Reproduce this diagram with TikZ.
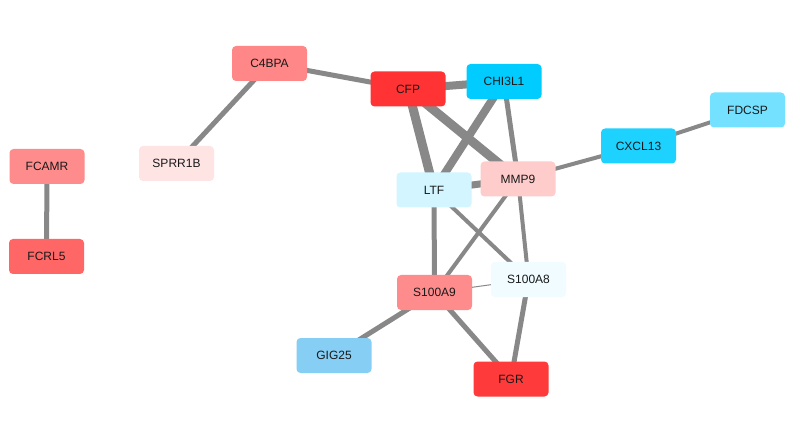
\documentclass[tikz,border=0pt]{standalone}
\usepackage{fontspec}
\setmainfont{Liberation Sans}
\usetikzlibrary{backgrounds}
\pgfdeclarelayer{paper}
\pgfsetlayers{paper,background,main}
\definecolor{edgegray}{RGB}{136,136,136}
\tikzset{
  gene/.style={rectangle, rounded corners=4pt, minimum width=75pt, minimum height=35pt,
    inner sep=0pt, text=black!90, font=\fontsize{12}{14}\selectfont},
  link/.style={draw=edgegray, line width=#1},
  link/.default=5pt
}
\begin{document}
\begin{tikzpicture}[x=1pt, y=-1pt]
\begin{pgfonlayer}{paper}
\useasboundingbox[fill=white] (0,0) rectangle (794,443);
\end{pgfonlayer}
% genes
\node[gene, fill={rgb,255:red,255;green,140;blue,140}] (FCAMR)  at (47,166.5) {FCAMR};
\node[gene, fill={rgb,255:red,255;green,102;blue,102}] (FCRL5)  at (46.5,256.5) {FCRL5};
\node[gene, fill={rgb,255:red,255;green,228;blue,228}] (SPRR1B) at (176.5,163.5) {SPRR1B};
\node[gene, fill={rgb,255:red,255;green,135;blue,135}] (C4BPA)  at (269.5,63.5) {C4BPA};
\node[gene, fill={rgb,255:red,255;green,51;blue,51}]   (CFP)    at (408,89) {CFP};
\node[gene, fill={rgb,255:red,0;green,204;blue,255}]   (CHI3L1) at (504,81.5) {CHI3L1};
\node[gene, fill={rgb,255:red,255;green,204;blue,204}] (MMP9)   at (518,179) {MMP9};
\node[gene, fill={rgb,255:red,210;green,245;blue,255}] (LTF)    at (434,190) {LTF};
\node[gene, fill={rgb,255:red,240;green,252;blue,255}] (S100A8) at (528.5,279.5) {S100A8};
\node[gene, fill={rgb,255:red,255;green,140;blue,140}] (S100A9) at (434.5,292.5) {S100A9};
\node[gene, fill={rgb,255:red,135;green,206;blue,245}] (GIG25)  at (334,355.5) {GIG25};
\node[gene, fill={rgb,255:red,255;green,58;blue,58}]   (FGR)    at (511,379) {FGR};
\node[gene, fill={rgb,255:red,30;green,210;blue,255}]  (CXCL13) at (638.5,146) {CXCL13};
\node[gene, fill={rgb,255:red,115;green,225;blue,255}] (FDCSP)  at (747.5,110) {FDCSP};
% interactions, drawn beneath the genes
\begin{pgfonlayer}{background}
\draw[link] (FCAMR.center) -- (FCRL5.center);
\draw[link] (C4BPA.center) -- (SPRR1B.center);
\draw[link] (C4BPA.center) -- (CFP.center);
\draw[link=8pt] (CFP.center) -- (CHI3L1.center);
\draw[link=9pt] (CFP.center) -- (LTF.center);
\draw[link=9pt] (CFP.center) -- (MMP9.center);
\draw[link=8pt] (CHI3L1.center) -- (LTF.center);
\draw[link] (CHI3L1.center) -- (MMP9.center);
\draw[link=7pt] (LTF.center) -- (MMP9.center);
\draw[link=4pt] (MMP9.center) -- (CXCL13.center);
\draw[link=4pt] (CXCL13.center) -- (FDCSP.center);
\draw[link] (LTF.center) -- (S100A9.center);
\draw[link=4pt] (LTF.center) -- (S100A8.center);
\draw[link=4pt] (MMP9.center) -- (S100A9.center);
\draw[link=4pt] (MMP9.center) -- (S100A8.center);
\draw[link=1pt] (S100A9.center) -- (S100A8.center);
\draw[link] (S100A9.center) -- (GIG25.center);
\draw[link] (S100A9.center) -- (FGR.center);
\draw[link] (S100A8.center) -- (FGR.center);
\end{pgfonlayer}
\end{tikzpicture}
\end{document}
